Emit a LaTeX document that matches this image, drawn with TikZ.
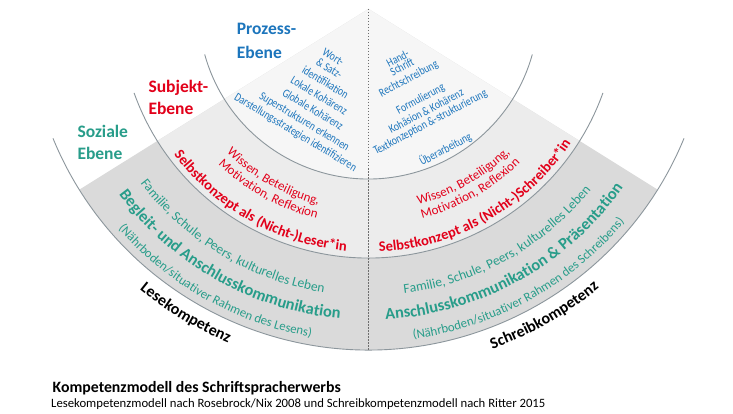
\documentclass[tikz,border=0pt]{standalone}
\usepackage{fontspec}
\setmainfont{Carlito}
\newfontfamily\condfont[FakeStretch=0.8]{Carlito}
\usetikzlibrary{decorations.text,calc}
\definecolor{pblue}{RGB}{28,117,188}
\definecolor{sred}{RGB}{226,0,26}
\definecolor{steal}{RGB}{40,157,138}
\definecolor{ringA}{RGB}{218,218,218}
\definecolor{ringB}{RGB}{236,236,236}
\definecolor{ringC}{RGB}{246,246,246}
\definecolor{arcgray}{RGB}{140,150,156}
\definecolor{dashgray}{RGB}{110,110,110}
\newcommand{\arctext}[5]{%
  \pgfmathsetmacro\sa{#2-50}\pgfmathsetmacro\ea{#2+50}%
  \path[decorate,decoration={text along path,text align=center,text color=#3,text={|#4|#5}}]
    ($(O)+(\sa:#1)$) arc[start angle=\sa,end angle=\ea,radius=#1];}
\tikzset{
  arcline/.style={draw=arcgray,line width=0.9pt},
  dashline/.style={draw=dashgray,line width=0.5pt,dash pattern=on 1.5pt off 1.5pt},
  ptext/.style={font=\condfont\fontsize{12}{12}\selectfont,text=pblue,inner sep=0pt},
  title/.style={font=\bfseries\fontsize{17.5}{20}\selectfont,anchor=base west,inner sep=0pt},
}
\begin{document}
\begin{tikzpicture}[x=1pt,y=1pt]
\useasboundingbox (0,0) rectangle (733,-414);
\fill[white] (0,0) rectangle (733,-414);
\coordinate (O) at (368.5,-9);
% fills
\fill[ringA] (O) -- ($(O)+(-148:341)$) arc[start angle=-148,end angle=-32,radius=341] -- cycle;
\fill[ringB] (O) -- ($(O)+(-148:249)$) arc[start angle=-148,end angle=-32,radius=249] -- cycle;
\fill[ringC] (O) -- ($(O)+(-148:170)$) arc[start angle=-148,end angle=-32,radius=170] -- cycle;
% arcs
\draw[arcline] ($(O)+(-164.5:170)$) arc[start angle=-164.5,end angle=-15.5,radius=170];
\draw[arcline] ($(O)+(-160.3:249)$) arc[start angle=-160.3,end angle=-19.7,radius=249];
\draw[arcline] ($(O)+(-157.7:341)$) arc[start angle=-157.7,end angle=-22.3,radius=341];
\coordinate (B) at ($(O)+(0,-341)$);
\draw[dashline] (O) -- (B);
% titles
\node[title,text=pblue] (p1) at (236.7,-35) {Prozess-};
\node[title,text=pblue] (p2) at (236.7,-58.3) {Ebene};
\node[title,text=sred] (s1) at (148.3,-92.3) {Subjekt-};
\node[title,text=sred] (s2) at (148.3,-115) {Ebene};
\node[title,text=steal] (z1) at (77.3,-137.3) {Soziale};
\node[title,text=steal] (z2) at (77.3,-159.3) {Ebene};
% Prozess left
\node[ptext,rotate=-31] (l1) at (333.3,-57.3) {Wort-};
\node[ptext,rotate=-31] (l2) at (329.3,-68.3) {\& Satz-};
\node[ptext,rotate=-31] (l3) at (325.5,-82.2) {identifikation};
\node[ptext,rotate=-31] (l4) at (319.2,-95.5) {Lokale Kohärenz};
\node[ptext,rotate=-31] (l5) at (313,-109.2) {Globale Kohärenz};
\node[ptext,rotate=-31] (l6) at (304.2,-122) {Superstrukturen erkennen};
\node[ptext,rotate=-31] (l7) at (295.3,-132.8) {Darstellungsstrategien identifizieren};
% Prozess right
\node[ptext,rotate=28] (r1) at (397.7,-58.5) {Hand-};
\node[ptext,rotate=28] (r2) at (402,-66.5) {Schrift};
\node[ptext,rotate=28] (r3) at (408.7,-79.2) {Rechtschreibung};
\node[ptext,rotate=28] (r4) at (420.7,-99.2) {Formulierung};
\node[ptext,rotate=28] (r5) at (426,-110.8) {Kohäsion \& Kohärenz};
\node[ptext,rotate=28] (r6) at (430.5,-122.5) {Textkonzeption \&-strukturierung};
\node[ptext,rotate=28] (r7) at (445.5,-149.2) {Überarbeitung};
% Subjekt ring, left
\arctext{202}{-119.5}{sred}{\fontsize{13}{15}\selectfont}{Wissen, Beteiligung,}
\arctext{216}{-119}{sred}{\fontsize{13}{15}\selectfont}{Motivation, Reflexion}
\arctext{243}{-119.2}{sred}{\fontsize{14.5}{16}\selectfont\bfseries}{Selbstkonzept als (Nicht-)Leser*in}
% Subjekt ring, right
\arctext{202}{-60.6}{sred}{\fontsize{13}{15}\selectfont}{Wissen, Beteiligung,}
\arctext{216}{-60.5}{sred}{\fontsize{13}{15}\selectfont}{Motivation, Reflexion}
\arctext{243}{-60.5}{sred}{\fontsize{14.5}{16}\selectfont\bfseries}{Selbstkonzept als (Nicht-)Schreiber*in}
% Soziale ring, left
\arctext{287}{-120.8}{steal}{\fontsize{13.5}{15}\selectfont}{Familie, Schule, Peers, kulturelles Leben}
\arctext{311}{-119.3}{steal}{\fontsize{16.4}{18}\selectfont\bfseries}{Begleit- und Anschlusskommunikation}
\arctext{333}{-119.3}{steal}{\fontsize{12.8}{14}\selectfont}{(Nährboden/situativer Rahmen des Lesens)}
% Soziale ring, right
\arctext{287}{-61}{steal}{\fontsize{13.5}{15}\selectfont}{Familie, Schule, Peers, kulturelles Leben}
\arctext{311}{-60.9}{steal}{\fontsize{16.4}{18}\selectfont\bfseries}{Anschlusskommunikation {\&} Präsentation}
\arctext{333}{-61}{steal}{\fontsize{12.8}{14}\selectfont}{(Nährboden/situativer Rahmen des Schreibens)}
% outer labels
\arctext{362}{-121}{black}{\fontsize{16}{18}\selectfont\bfseries}{Lesekompetenz}
\arctext{362}{-60.2}{black}{\fontsize{16}{18}\selectfont\bfseries}{Schreibkompetenz}
% caption
\node[anchor=base west,inner sep=0pt,font=\bfseries\fontsize{15.8}{17}\selectfont] (cap1) at (52.5,-392.3) {Kompetenzmodell des Schriftspracherwerbs};
\node[anchor=base west,inner sep=0pt,font=\fontsize{12.7}{14}\selectfont] (cap2) at (51,-407.7) {Lesekompetenzmodell nach Rosebrock/Nix 2008 und Schreibkompetenzmodell nach Ritter 2015};
\end{tikzpicture}
\end{document}
